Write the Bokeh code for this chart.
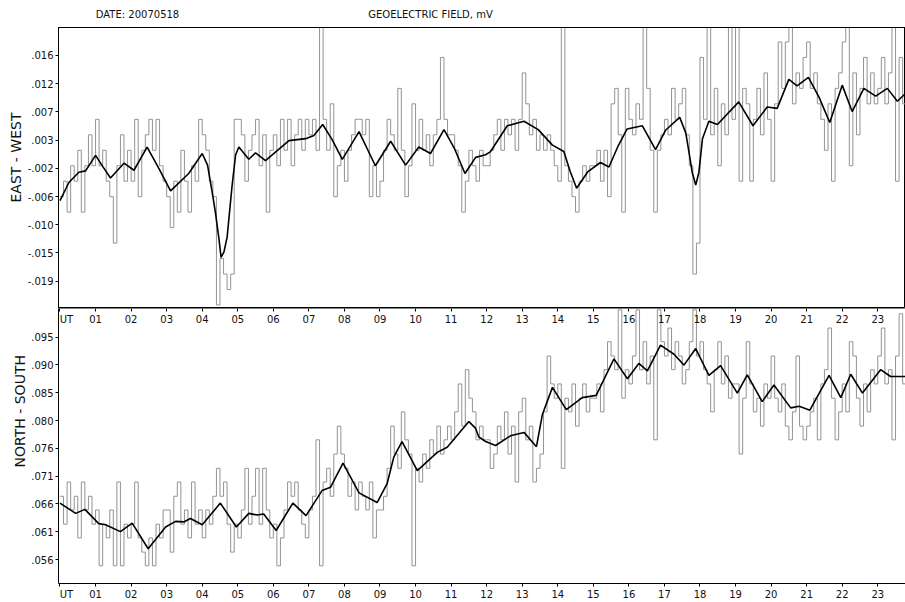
import numpy as np
from bokeh.plotting import figure
from bokeh.layouts import column
from bokeh.models import Range1d, LinearAxis, FixedTicker, Title
from bokeh.embed import file_html
from bokeh.resources import INLINE

# ---------------- data ----------------
DATE_TEXT = "DATE: 20070518"
TITLE_TEXT = "GEOELECTRIC FIELD, mV"
EW_NAME = "EAST - WEST"
NS_NAME = "NORTH - SOUTH"

SAMPLE_STEP_H = 0.1  # raw record sampled every 0.1 hour (UT)

# East-West raw field, 10 samples per hour (hours 00..23)
ew_raw = [
    -0.0059, -0.0035, -0.0083, -0.0011, -0.0035, 0.0013, -0.0083, -0.0011, 0.0037, -0.0011,
    0.0061, -0.0011, 0.0013, -0.0035, -0.0059, -0.0131, -0.0011, 0.0037, -0.0035, 0.0013,
    -0.0035, 0.0061, -0.0059, 0.0013, 0.0037, 0.0061, 0.0013, 0.0061, -0.0011, -0.0035,
    -0.0059, -0.0107, -0.0035, -0.0083, 0.0013, -0.0035, -0.0083, -0.0011, -0.0035, 0.0061,
    0.0037, 0.0013, -0.0035, -0.0059, -0.0227, -0.0155, -0.0179, -0.0203, -0.0179, 0.0061,
    0.0061, 0.0037, -0.0035, 0.0013, 0.0037, 0.0061, -0.0011, 0.0037, -0.0083, 0.0013,
    0.0037, -0.0011, 0.0061, 0.0013, 0.0061, -0.0011, 0.0037, 0.0061, 0.0013, 0.0061,
    0.0037, 0.0061, 0.0013, 0.0205, 0.0061, 0.0013, 0.0085, -0.0059, -0.0011, 0.0013,
    -0.0035, 0.0013, 0.0037, 0.0061, 0.0061, 0.0037, 0.0061, -0.0059, -0.0011, -0.0059,
    -0.0035, 0.0013, 0.0061, 0.0037, 0.0013, 0.0109, 0.0013, -0.0059, -0.0011, 0.0085,
    0.0013, 0.0061, 0.0013, 0.0037, -0.0011, 0.0037, 0.0061, 0.0157, 0.0061, 0.0037,
    0.0037, 0.0013, -0.0011, -0.0083, -0.0035, 0.0013, -0.0011, -0.0035, 0.0013, -0.0011,
    -0.0011, 0.0013, 0.0037, 0.0061, 0.0013, 0.0061, 0.0037, 0.0061, 0.0013, 0.0061,
    0.0133, 0.0085, 0.0037, 0.0061, 0.0013, 0.0037, 0.0013, 0.0037, 0.0013, -0.0011,
    -0.0035, 0.0205, -0.0011, -0.0035, -0.0059, -0.0083, -0.0035, -0.0011, -0.0035, -0.0011,
    -0.0011, 0.0013, -0.0035, 0.0013, -0.0059, 0.0085, 0.0109, 0.0037, -0.0083, 0.0109,
    0.0061, 0.0037, 0.0085, 0.0061, 0.0205, 0.0109, 0.0013, -0.0083, 0.0013, 0.0037,
    0.0061, 0.0037, 0.0109, 0.0061, 0.0085, 0.0109, 0.0037, -0.0011, -0.0179, -0.0131,
    0.0157, 0.0061, 0.0205, 0.0037, 0.0109, -0.0011, 0.0085, 0.0037, 0.0205, 0.0061,
    0.0205, -0.0035, 0.0109, 0.0085, -0.0035, 0.0061, 0.0109, 0.0037, 0.0133, 0.0061,
    -0.0035, 0.0085, 0.0181, 0.0109, 0.0181, 0.0205, 0.0085, 0.0133, 0.0109, 0.0157,
    0.0181, 0.0109, 0.0133, 0.0085, 0.0061, 0.0013, 0.0085, -0.0035, 0.0109, 0.0133,
    0.0181, 0.0205, -0.0011, 0.0133, 0.0037, 0.0109, 0.0157, 0.0085, 0.0133, 0.0085,
    0.0109, 0.0157, 0.0085, 0.0133, 0.0205, -0.0035, 0.0157, 0.0085, 0.0133, 0.0109,
]

# North-South raw field, 10 samples per hour (hours 00..23)
ns_raw = [
    0.0671, 0.0622, 0.0696, 0.0647, 0.0671, 0.0598, 0.0696, 0.0647, 0.0671, 0.0622,
    0.0647, 0.0549, 0.0622, 0.0598, 0.0647, 0.0549, 0.0696, 0.0549, 0.0622, 0.0598,
    0.0622, 0.0696, 0.0598, 0.0573, 0.0549, 0.0598, 0.0549, 0.0622, 0.0598, 0.0647,
    0.0647, 0.0573, 0.0671, 0.0696, 0.0622, 0.0647, 0.0598, 0.0696, 0.0622, 0.0647,
    0.0598, 0.0647, 0.0622, 0.0671, 0.0720, 0.0671, 0.0696, 0.0622, 0.0573, 0.0622,
    0.0598, 0.0647, 0.0720, 0.0622, 0.0671, 0.0720, 0.0622, 0.0720, 0.0647, 0.0598,
    0.0622, 0.0549, 0.0598, 0.0647, 0.0696, 0.0671, 0.0696, 0.0647, 0.0622, 0.0598,
    0.0647, 0.0671, 0.0770, 0.0549, 0.0696, 0.0720, 0.0671, 0.0745, 0.0794, 0.0745,
    0.0720, 0.0671, 0.0696, 0.0647, 0.0696, 0.0671, 0.0647, 0.0696, 0.0598, 0.0647,
    0.0647, 0.0671, 0.0720, 0.0794, 0.0745, 0.0720, 0.0819, 0.0770, 0.0745, 0.0549,
    0.0720, 0.0696, 0.0745, 0.0720, 0.0770, 0.0745, 0.0794, 0.0745, 0.0770, 0.0794,
    0.0770, 0.0819, 0.0868, 0.0794, 0.0893, 0.0843, 0.0819, 0.0770, 0.0794, 0.0770,
    0.0770, 0.0720, 0.0745, 0.0794, 0.0770, 0.0819, 0.0745, 0.0794, 0.0696, 0.0819,
    0.0843, 0.0770, 0.0794, 0.0696, 0.0720, 0.0745, 0.0819, 0.0917, 0.0868, 0.0843,
    0.0868, 0.0720, 0.0843, 0.0819, 0.0868, 0.0794, 0.0843, 0.0868, 0.0819, 0.0843,
    0.0843, 0.0868, 0.0819, 0.0893, 0.0942, 0.0917, 0.0893, 0.0998, 0.0843, 0.0893,
    0.0868, 0.0917, 0.0998, 0.0893, 0.0942, 0.0868, 0.0917, 0.0770, 0.0998, 0.0942,
    0.0917, 0.0966, 0.0893, 0.0942, 0.0917, 0.0868, 0.0893, 0.0942, 0.0998, 0.0917,
    0.0942, 0.0893, 0.0868, 0.0819, 0.0893, 0.0942, 0.0868, 0.0917, 0.0843, 0.0868,
    0.0868, 0.0745, 0.0843, 0.0942, 0.0868, 0.0819, 0.0843, 0.0794, 0.0868, 0.0843,
    0.0917, 0.0843, 0.0819, 0.0868, 0.0794, 0.0770, 0.0819, 0.0917, 0.0794, 0.0770,
    0.0794, 0.0819, 0.0843, 0.0770, 0.0868, 0.0893, 0.0966, 0.0843, 0.0770, 0.0819,
    0.0868, 0.0819, 0.0942, 0.0917, 0.0843, 0.0794, 0.0868, 0.0819, 0.0893, 0.0868,
    0.0917, 0.0966, 0.0868, 0.0893, 0.0770, 0.0917, 0.0991, 0.0868, 0.0819, 0.0893,
]

# Smoothed (filtered) curves
ew_smooth_h = [0.0, 0.25, 0.53, 0.72, 1.0, 1.2, 1.42, 1.8, 2.08, 2.45, 2.75, 3.11, 3.62, 4.0,
               4.15, 4.28, 4.37, 4.47, 4.53, 4.61, 4.70, 4.84, 4.94, 5.03, 5.31, 5.50, 5.78,
               6.1, 6.44, 6.91, 7.14, 7.39, 7.65, 7.94, 8.41, 8.87, 9.30, 9.72, 10.09, 10.42,
               10.80, 11.1, 11.39, 11.69, 11.97, 12.11, 12.58, 13.05, 13.45, 13.85, 14.17,
               14.35, 14.53, 14.85, 15.20, 15.44, 15.7, 15.95, 16.38, 16.75, 17.03, 17.43,
               17.6, 17.69, 17.78, 17.88, 17.97, 18.07, 18.25, 18.49, 19.09, 19.49, 19.89,
               20.17, 20.50, 20.73, 21.05, 21.35, 21.65, 22.00, 22.28, 22.61, 22.94, 23.27,
               23.55, 23.78]
ew_smooth = [-0.0065, -0.0037, -0.0021, -0.0019, 0.0005, -0.0012, -0.0030, -0.0007, -0.0018,
             0.0018, -0.0012, -0.0050, -0.0023, 0.0008, -0.0010, -0.0052, -0.0083, -0.0124,
             -0.0153, -0.0145, -0.0122, -0.0042, 0.0006, 0.0018, -0.0001, 0.0009, -0.0003,
             0.0012, 0.0028, 0.0031, 0.0036, 0.0053, 0.0030, -0.0001, 0.0042, -0.0011,
             0.0027, -0.0010, 0.0018, 0.0008, 0.0045, 0.0015, -0.0023, 0.0002, 0.0006,
             0.0011, 0.0051, 0.0058, 0.0045, 0.0021, 0.0011, -0.0020, -0.0046, -0.0020,
             -0.0006, -0.0013, 0.0020, 0.0046, 0.0051, 0.0014, 0.0044, 0.0064, 0.0040,
             0.0010, -0.0021, -0.0041, -0.0021, 0.0031, 0.0058, 0.0053, 0.0088, 0.0051,
             0.0080, 0.0078, 0.0123, 0.0113, 0.0126, 0.0095, 0.0056, 0.0114, 0.0073,
             0.0109, 0.0097, 0.0109, 0.0089, 0.0101]

ns_smooth_h = [0.0, 0.44, 0.70, 1.09, 1.28, 1.70, 2.03, 2.48, 2.97, 3.25, 3.48, 3.67, 4.0,
               4.51, 4.96, 5.31, 5.55, 5.73, 6.08, 6.55, 6.92, 7.37, 7.61, 7.96, 8.41, 8.92,
               9.2, 9.39, 9.62, 10.05, 10.61, 10.89, 11.5, 11.69, 11.78, 11.97, 12.25, 12.67,
               13.05, 13.4, 13.57, 13.85, 14.24, 14.69, 15.08, 15.58, 15.96, 16.28, 16.52,
               16.89, 17.27, 17.55, 17.88, 18.25, 18.58, 19.05, 19.33, 19.75, 20.08, 20.55,
               20.79, 21.09, 21.63, 21.96, 22.24, 22.57, 23.08, 23.36, 23.78]
ns_smooth = [0.0659, 0.0641, 0.0648, 0.0623, 0.0621, 0.0609, 0.0624, 0.0579, 0.0617, 0.0627,
             0.0626, 0.0632, 0.0621, 0.0659, 0.0617, 0.0641, 0.0638, 0.0640, 0.0611, 0.0659,
             0.0637, 0.0681, 0.0687, 0.0729, 0.0677, 0.0660, 0.0693, 0.0740, 0.0767, 0.0716,
             0.0748, 0.0757, 0.0802, 0.0790, 0.0775, 0.0767, 0.0760, 0.0777, 0.0783, 0.0758,
             0.0815, 0.0862, 0.0823, 0.0844, 0.0848, 0.0912, 0.0877, 0.0904, 0.0891, 0.0936,
             0.0920, 0.0901, 0.0930, 0.0883, 0.0900, 0.0852, 0.0884, 0.0837, 0.0866, 0.0826,
             0.0829, 0.0822, 0.0883, 0.0844, 0.0885, 0.0852, 0.0893, 0.0881, 0.0881]

ew_ticks = [0.016, 0.011625, 0.00725, 0.002875, -0.0015, -0.005875, -0.01025, -0.014625, -0.019]
ew_tick_labels = [".016", ".012", ".007", ".003", "-.002", "-.006", "-.010", "-.015", "-.019"]
ns_ticks = [0.095, 0.090125, 0.08525, 0.080375, 0.0755, 0.070625, 0.06575, 0.060875, 0.056]
ns_tick_labels = [".095", ".090", ".085", ".080", ".076", ".071", ".066", ".061", ".056"]
hour_ticks = [0, 1, 2, 3, 4, 5, 6, 7, 8, 9, 10, 11, 12, 13, 14, 15, 16, 17, 18, 19, 20, 21, 22, 23]
hour_labels = ["\u00a0\u00a0\u00a0\u00a0UT", "01", "02", "03", "04", "05", "06", "07", "08",
               "09", "10", "11", "12", "13", "14", "15", "16", "17", "18", "19", "20", "21",
               "22", "23"]
# header texts are placed (centred) at these UT positions
header_pos_h = [2.18, 10.42]
header_texts = [DATE_TEXT, TITLE_TEXT]

# ---------------- layout ----------------
FONT = "DejaVu Sans"
W = 905
H_TOP, H_BOT = 308, 294
X_START, X_END = -0.042, 23.78
EW_PANEL_BOTTOM, EW_TOP = -0.02324, 0.02034
NS_BOTTOM, NS_TOP = 0.0518, 0.10003
GRAY = "#939393"

x_rng = Range1d(X_START, X_END)


def style(ax, size="10px"):
    ax.axis_line_color = "black"
    ax.axis_line_width = 1
    ax.major_tick_out = 3
    ax.major_tick_in = 0
    ax.major_tick_line_color = "black"
    ax.minor_tick_line_color = None
    ax.major_label_text_font = FONT
    ax.major_label_text_font_size = size
    ax.major_label_text_color = "#111111"
    ax.major_label_standoff = 2
    return ax


def name_title(text, offset):
    # "left" alignment on a left-side title starts the text at the frame bottom;
    # offset moves it up
    return Title(text=text, align="left", offset=offset, text_font=FONT,
                 text_font_size="14px", text_font_style="normal", text_color="#111111",
                 standoff=2)


# ---- top panel: EAST - WEST ----
p1 = figure(width=W, height=H_TOP, output_backend="svg", toolbar_location=None,
            x_range=x_rng, y_range=Range1d(EW_PANEL_BOTTOM, EW_TOP),
            x_axis_location=None, y_axis_location=None,
            min_border_left=58, min_border_right=0, min_border_top=27, min_border_bottom=0)
p1.grid.grid_line_color = None
p1.outline_line_color = "black"
p1.border_fill_color = "white"

t_ew = np.arange(len(ew_raw)) * SAMPLE_STEP_H
p1.step(t_ew, ew_raw, mode="after", line_color=GRAY, line_width=1)
p1.line(ew_smooth_h, ew_smooth, line_color="black", line_width=1.6)

ax = style(LinearAxis(ticker=FixedTicker(ticks=ew_ticks),
                      major_label_overrides=dict(zip(ew_ticks, ew_tick_labels))))
p1.add_layout(ax, "left")
p1.add_layout(name_title(EW_NAME, 106), "left")

hdr = LinearAxis(ticker=FixedTicker(ticks=header_pos_h),
                 major_label_overrides=dict(zip(header_pos_h, header_texts)))
hdr.axis_line_color = "black"
hdr.major_tick_line_color = None
hdr.minor_tick_line_color = None
hdr.major_tick_out = 0
hdr.major_tick_in = 0
hdr.major_label_standoff = 8
hdr.major_label_text_font = FONT
hdr.major_label_text_font_size = "10px"
hdr.major_label_text_color = "#111111"
p1.add_layout(hdr, "above")

# ---- bottom panel: NORTH - SOUTH ----
p2 = figure(width=W, height=H_BOT, output_backend="svg", toolbar_location=None,
            x_range=x_rng, y_range=Range1d(NS_BOTTOM, NS_TOP),
            x_axis_location=None, y_axis_location=None,
            min_border_left=58, min_border_right=0, min_border_top=0, min_border_bottom=0)
p2.grid.grid_line_color = None
p2.outline_line_color = None
p2.border_fill_color = "white"

t_ns = np.arange(len(ns_raw)) * SAMPLE_STEP_H
p2.step(t_ns, ns_raw, mode="after", line_color=GRAY, line_width=1)
p2.line(ns_smooth_h, ns_smooth, line_color="black", line_width=1.6)

ax = style(LinearAxis(ticker=FixedTicker(ticks=ns_ticks),
                      major_label_overrides=dict(zip(ns_ticks, ns_tick_labels))))
p2.add_layout(ax, "left")
p2.add_layout(name_title(NS_NAME, 116), "left")

hour_over = dict(zip(hour_ticks, hour_labels))
mid = style(LinearAxis(ticker=FixedTicker(ticks=hour_ticks), major_label_overrides=hour_over,
                       fixed_location=NS_TOP))
p2.add_layout(mid, "below")
bot = style(LinearAxis(ticker=FixedTicker(ticks=hour_ticks), major_label_overrides=hour_over))
p2.add_layout(bot, "below")

layout = column(p1, p2, spacing=0)
open("out.html", "w").write(file_html(layout, INLINE))
